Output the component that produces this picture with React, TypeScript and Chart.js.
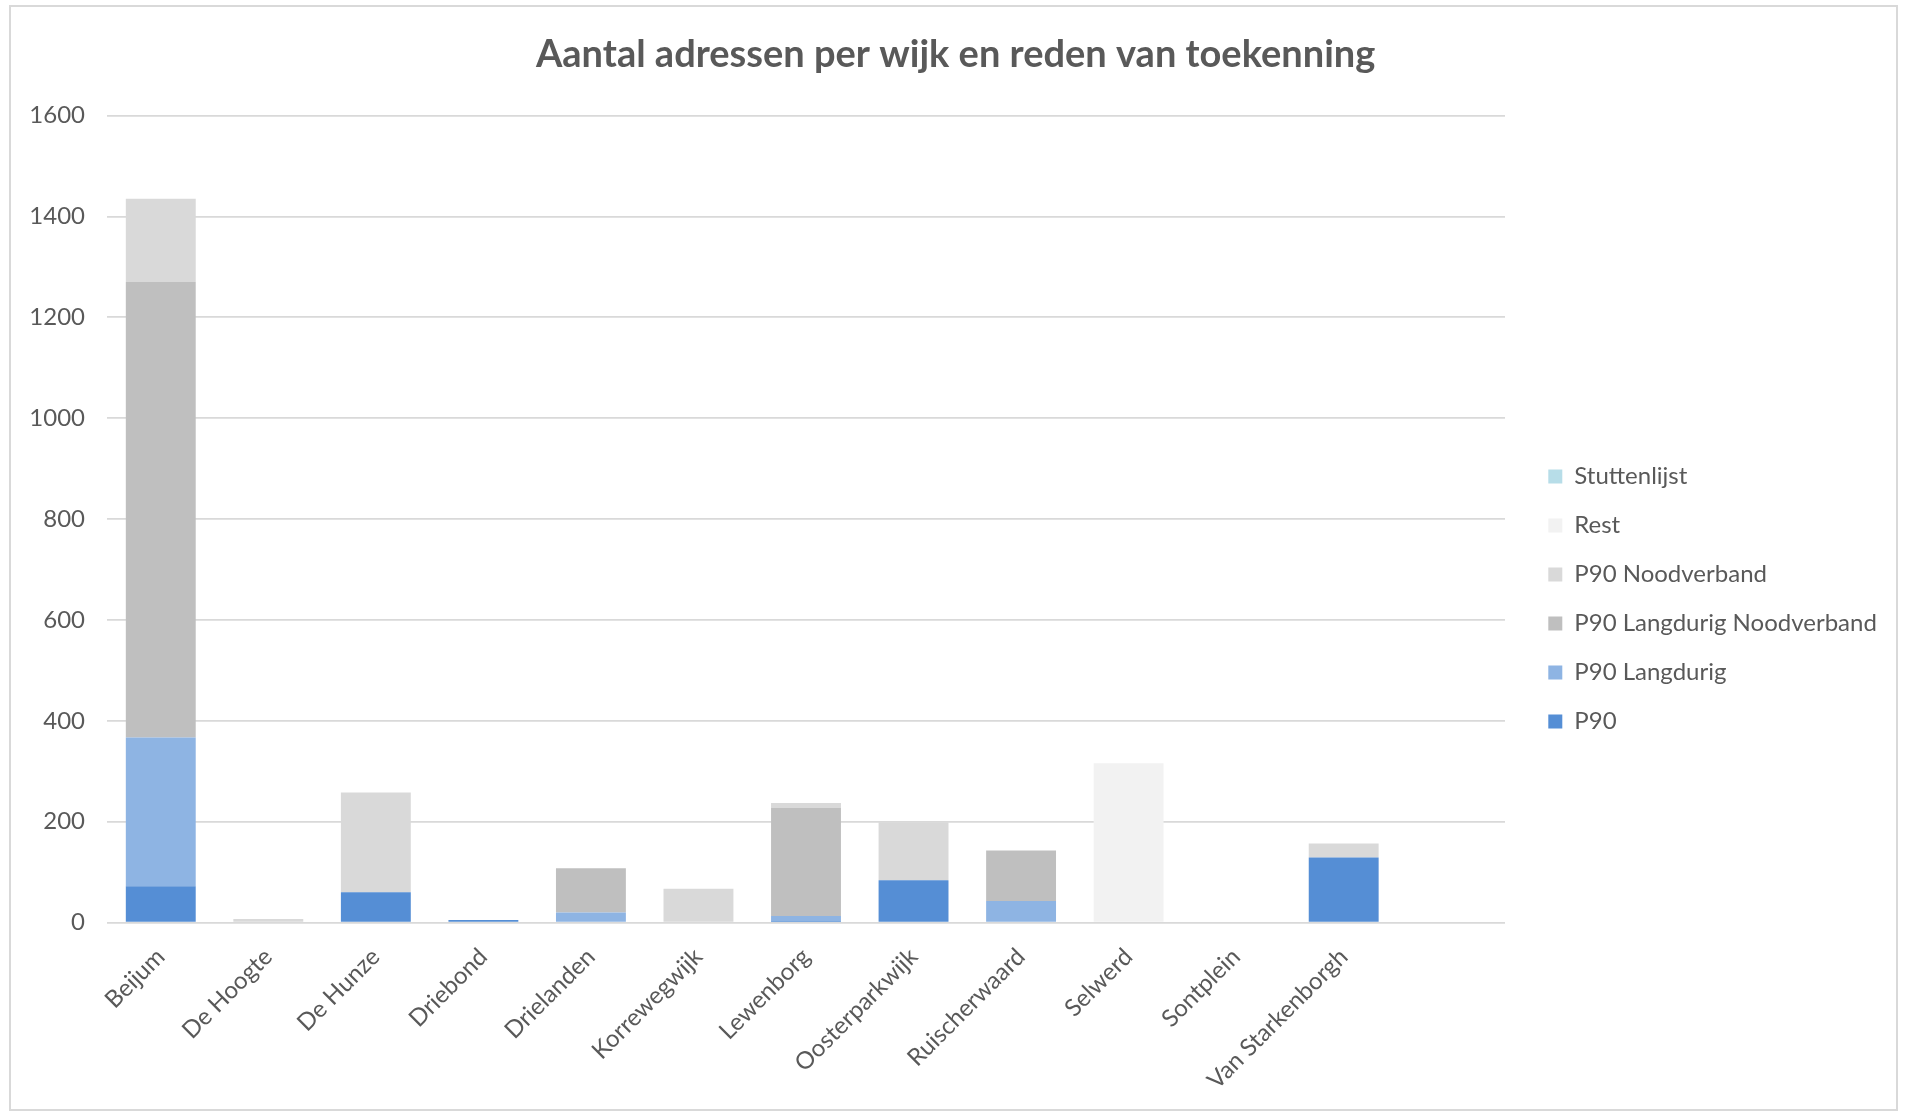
import React, { useEffect, useRef } from "react";
import { Chart, registerables } from "chart.js";

Chart.register(...registerables);

const categories = [
  "Beijum",
  "De Hoogte",
  "De Hunze",
  "Driebond",
  "Drielanden",
  "Korrewegwijk",
  "Lewenborg",
  "Oosterparkwijk",
  "Ruischerwaard",
  "Selwerd",
  "Sontplein",
  "Van Starkenborgh",
  "",
];

const p90 = [72, 0, 60, 5, 0, 0, 3, 84, 0, 0, 0, 129, 0];
const p90Langdurig = [295, 0, 0, 0, 20, 0, 10, 0, 43, 0, 0, 0, 0];
const p90LangdurigNoodverband = [903, 0, 0, 0, 88, 0, 214, 0, 100, 0, 0, 0, 0];
const p90Noodverband = [165, 7, 198, 0, 0, 67, 10, 115, 0, 0, 0, 28, 0];
const rest = [0, 0, 0, 0, 0, 0, 0, 0, 0, 316, 0, 0, 0];
const stuttenlijst = [0, 0, 0, 0, 0, 0, 0, 0, 0, 0, 0, 0, 0];

const seriesNames = [
  "P90",
  "P90 Langdurig",
  "P90 Langdurig Noodverband",
  "P90 Noodverband",
  "Rest",
  "Stuttenlijst",
];
const seriesColors = ["#558ed5", "#8eb4e3", "#bfbfbf", "#d9d9d9", "#f2f2f2", "#b7dde8"];
const yTicks = [0, 200, 400, 600, 800, 1000, 1200, 1400, 1600];

const titleText = "Aantal adressen per wijk en reden van toekenning";
const FONT = "Lato, 'Open Sans', sans-serif";
const TEXT = "#595959";

const CANVAS_W = 1886;
const CANVAS_H = 1103;
const PLOT_RIGHT = 1495; // right edge of plot area in canvas px
const GAP = 18.3; // extra gap between plot area and legend
const TITLE_CENTER = 945.6; // horizontal centre of the title in canvas px
const LEGEND_FONT = 24;
const LEGEND_BOX = 14;
const LEGEND_PAD = 25;

const shiftBoxes = {
  id: "shiftBoxes",
  afterLayout(chart: any) {
    const lg = chart.legend;
    if (lg) {
      lg.left += GAP;
      lg.right += GAP;
    }
    const tb = chart.titleBlock;
    if (tb) {
      const dx = TITLE_CENTER - (tb.left + tb.right) / 2;
      tb.left += dx;
      tb.right += dx;
    }
  },
};

export default function App() {
  const ref = useRef<HTMLCanvasElement | null>(null);

  useEffect(() => {
    document.body.style.margin = "0";
    const canvas = ref.current;
    if (!canvas) return;

    const mctx = document.createElement("canvas").getContext("2d")!;
    mctx.font = `${LEGEND_FONT}px ${FONT}`;
    const tw = Math.max(...seriesNames.map((n) => mctx.measureText(n).width));
    const legendW = LEGEND_PAD + LEGEND_BOX + LEGEND_FONT / 2 + tw + 10;
    const padRight = Math.max(0, CANVAS_W - PLOT_RIGHT - legendW);

    const values = [p90, p90Langdurig, p90LangdurigNoodverband, p90Noodverband, rest, stuttenlijst];
    const chart = new Chart(canvas, {
      type: "bar",
      data: {
        labels: categories,
        datasets: seriesNames.map((name, i) => ({
          label: name,
          data: values[i],
          backgroundColor: seriesColors[i],
          borderWidth: 0,
          barPercentage: 0.65,
          categoryPercentage: 1,
          stack: "s",
        })),
      },
      plugins: [shiftBoxes],
      options: {
        responsive: false,
        animation: false,
        devicePixelRatio: 1,
        layout: { padding: { left: 0, right: padRight, top: 0, bottom: 0 } },
        plugins: {
          tooltip: { enabled: false },
          title: {
            display: true,
            text: titleText,
            color: TEXT,
            font: { family: FONT, size: 38, weight: "bold" },
            padding: { top: 26, bottom: 38 },
          },
          legend: {
            display: true,
            position: "right",
            align: "center",
            reverse: true,
            title: {
              display: true,
              text: " ",
              font: { size: 10 },
              padding: { top: 71, bottom: 0 },
            },
            labels: {
              boxWidth: LEGEND_BOX,
              boxHeight: LEGEND_BOX,
              padding: LEGEND_PAD,
              color: TEXT,
              font: { family: FONT, size: LEGEND_FONT },
            },
          },
        },
        scales: {
          x: {
            stacked: true,
            grid: { display: false },
            border: { display: false },
            ticks: {
              color: TEXT,
              font: { family: FONT, size: 24 },
              minRotation: 45,
              maxRotation: 45,
              autoSkip: false,
              padding: 12,
            },
            afterFit: (s: any) => {
              s.height = 186.4;
            },
          },
          y: {
            stacked: true,
            min: 0,
            max: 1600,
            afterBuildTicks: (s: any) => {
              s.ticks = yTicks.map((v) => ({ value: v }));
            },
            grid: { color: "#d9d9d9", lineWidth: 1.8, drawTicks: false },
            border: { display: false },
            ticks: {
              color: TEXT,
              font: { family: FONT, size: 24 },
              padding: 22,
              callback: (v: any) => String(v),
            },
            afterFit: (s: any) => {
              s.width = 97;
            },
          },
        },
      },
    });
    return () => chart.destroy();
  }, []);

  return (
    <div style={{ position: "fixed", left: 0, top: 0, width: 1906, height: 1111, background: "#fff" }}>
      <div
        style={{
          position: "absolute",
          left: 9,
          top: 5,
          width: 1889,
          height: 1106,
          border: "2px solid #d9d9d9",
          boxSizing: "border-box",
        }}
      />
      <canvas
        ref={ref}
        width={CANVAS_W}
        height={CANVAS_H}
        style={{ position: "absolute", left: 10, top: 6, width: CANVAS_W, height: CANVAS_H }}
      />
    </div>
  );
}
